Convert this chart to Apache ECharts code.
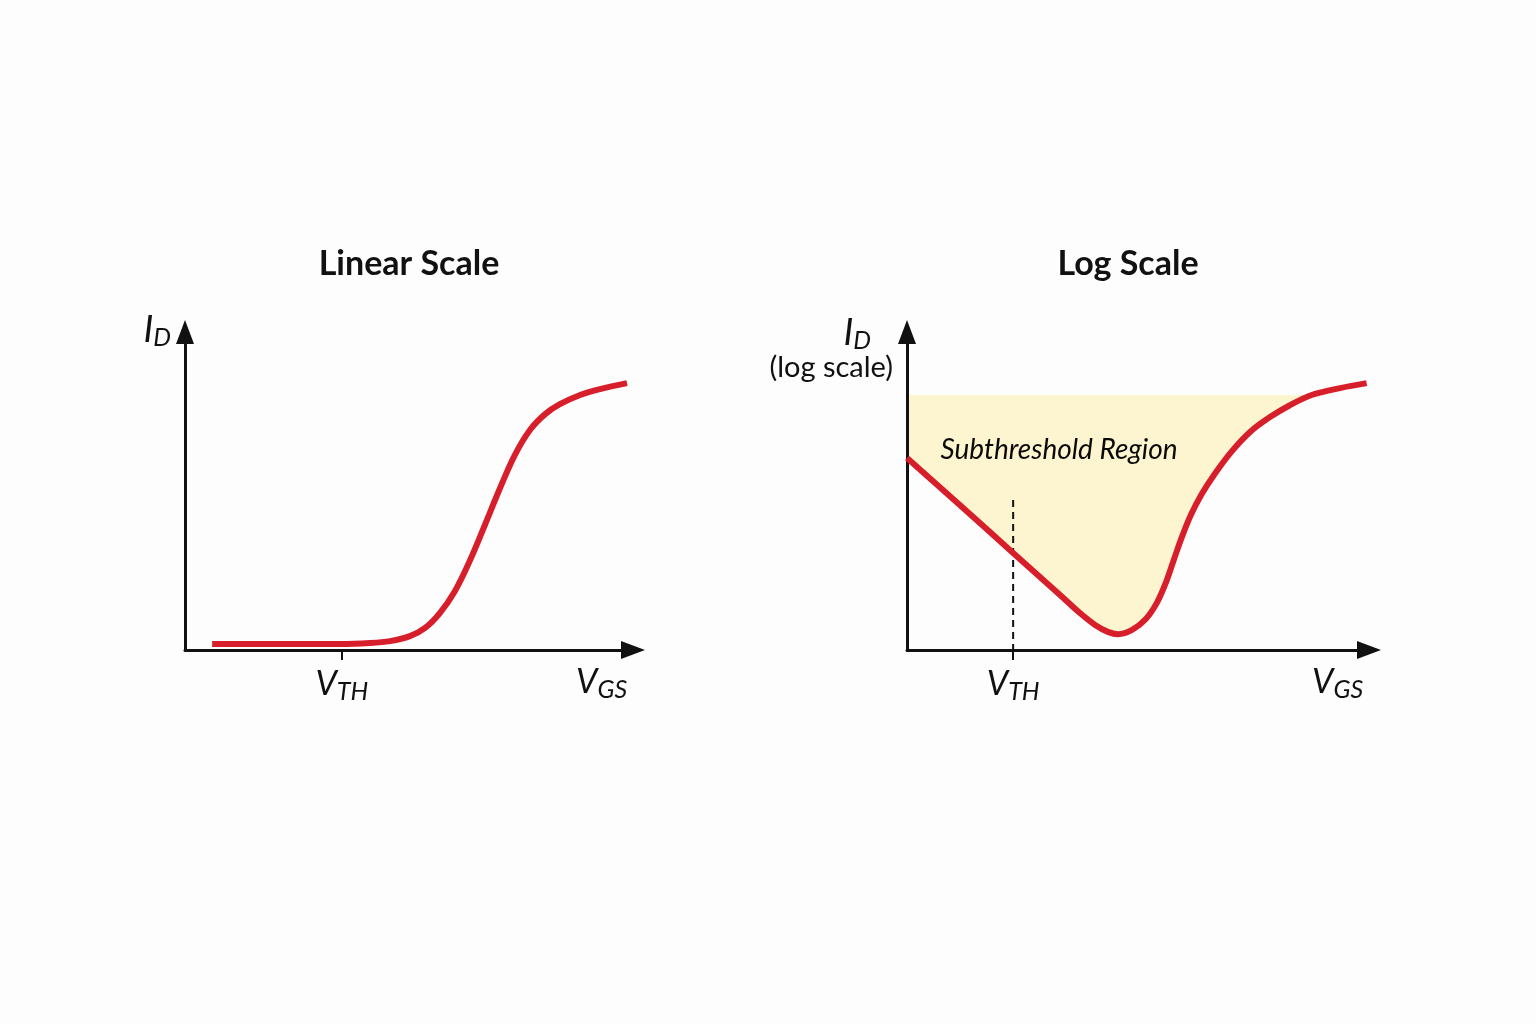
<!DOCTYPE html>
<html>
<head>
<meta charset="utf-8">
<script src="https://cdn.jsdelivr.net/npm/echarts@6/dist/echarts.min.js"></script>
<style>html,body{margin:0;padding:0;background:#fdfdfd}#c{width:1536px;height:1024px}</style>
</head>
<body>
<div id="c"></div>
<script>
// ---- data (arbitrary units: V_GS 0..100, I_D 0..100) ----
const titles = ['Linear Scale', 'Log Scale'];
const linX = [5.9, 16.3, 25.0, 33.7, 40.2, 44.6, 48.9, 52.2, 55.4, 58.7, 62.0, 65.2, 68.5, 71.7, 75.0, 78.3, 81.5, 85.9, 90.2, 96.1];
const linY = [1.8, 1.8, 1.8, 1.8, 2.1, 2.7, 4.2, 6.7, 11.2, 17.9, 27.3, 37.9, 49.1, 59.1, 66.7, 71.5, 74.5, 77.3, 79.1, 80.9];
const logX = [0, 11.2, 22.4, 32.3, 36.5, 39.7, 42.4, 44.5, 47.5, 50.4, 52.7, 54.6, 56.3, 58.0, 59.9, 62.2, 64.9, 68.4, 72.4, 76.6, 80.8, 85.4, 91.4, 97.0];
const logY = [58.2, 43.9, 29.4, 16.7, 11.2, 7.6, 5.5, 4.8, 6.1, 9.4, 14.2, 20.3, 27.3, 34.2, 40.9, 47.3, 53.3, 60.0, 66.1, 70.6, 74.2, 77.3, 79.4, 80.9];
const vthLin = 34.1;
const vthLog = 22.4;
const fillTop = 77.3;      // top of the subthreshold shading
const dashTop = 45.5;      // top of the dashed V_TH marker
const regionLabel = 'Subthreshold Region';
const regionLabelPos = [32.1, 60.6];
const logAxisNote = '(log scale)';
const logNoteAt = 85.5;

// ---- styles ----
const RED = '#d71f2b';
const FILL = '#fdf5cf';
const INK = '#111111';
const FONT = 'Lato, "Open Sans", sans-serif';

const subRich = {
  v: { fontFamily: FONT, fontStyle: 'italic', fontSize: 34, color: INK },
  s: { fontFamily: FONT, fontStyle: 'italic', fontSize: 25, color: INK, padding: [14, 0, 0, 0] }
};
const idRich = {
  v: { fontFamily: FONT, fontStyle: 'italic', fontSize: 37, color: INK },
  s: { fontFamily: FONT, fontStyle: 'italic', fontSize: 25, color: INK, padding: [16, 0, 0, 0] }
};

const zip = (xs, ys) => xs.map((x, i) => [x, ys[i]]);
const linData = zip(linX, linY);
const logData = zip(logX, logY);

function makeX(idx, max, vth) {
  return {
    type: 'value', gridIndex: idx, min: 0, max: max, z: 5,
    splitLine: { show: false },
    axisLine: { show: true, lineStyle: { color: INK, width: 3 }, symbol: ['none', 'triangle'], symbolSize: [18, 24] },
    axisTick: { show: true, customValues: [vth], length: 10, lineStyle: { color: INK, width: 2 } },
    axisLabel: { show: true, customValues: [vth], margin: 15, formatter: () => '{v|V}{s|TH}', rich: subRich },
    name: '{v|V}{s|GS}', nameLocation: 'end', nameGap: -57,
    nameTextStyle: { align: 'left', verticalAlign: 'top', padding: [13, 0, 0, 0], rich: subRich }
  };
}
function makeY(idx, nameRightPad, nameGap, note) {
  return {
    type: 'value', gridIndex: idx, min: 0, max: 96.4, z: 5,
    splitLine: { show: false },
    axisLine: { show: true, lineStyle: { color: INK, width: 3 }, symbol: ['none', 'triangle'], symbolSize: [18, 24] },
    axisTick: { show: false },
    axisLabel: note ? { show: true, customValues: [logNoteAt], margin: 14, formatter: () => note,
                        fontFamily: FONT, fontSize: 29, color: INK } : { show: false },
    name: '{v|I}{s|D}', nameLocation: 'end', nameGap: nameGap,
    nameTextStyle: { align: 'right', verticalAlign: 'middle', padding: [0, nameRightPad, 0, 0], rich: idRich }
  };
}

const chart = echarts.init(document.getElementById('c'), null, { renderer: 'canvas' });
chart.setOption({
  backgroundColor: '#fdfdfd',
  animation: false,
  title: [
    { text: titles[0], left: 404, top: 242, textAlign: 'center', textStyle: { fontFamily: FONT, fontWeight: 'bold', fontSize: 34, color: INK } },
    { text: titles[1], left: 1123, top: 242, textAlign: 'center', textStyle: { fontFamily: FONT, fontWeight: 'bold', fontSize: 34, color: INK } }
  ],
  grid: [
    { left: 185, top: 332, width: 448, height: 318 },
    { left: 907, top: 332, width: 462, height: 318 }
  ],
  xAxis: [makeX(0, 97.4, vthLin), makeX(1, 97.5, vthLog)],
  yAxis: [makeY(0, 14, 2, null), makeY(1, 36, -6, logAxisNote)],
  series: [
    {
      type: 'custom', xAxisIndex: 1, yAxisIndex: 1, z: 1, silent: true,
      data: [0],
      renderItem: function (params, api) {
        const pts = [api.coord([0, fillTop])];
        for (let i = 0; i < logData.length; i++) {
          pts.push(api.coord(logData[i]));
          if (logData[i][1] >= fillTop && i > 0) break;
        }
        return { type: 'polygon', shape: { points: pts }, style: { fill: FILL } };
      }
    },
    {
      type: 'line', xAxisIndex: 0, yAxisIndex: 0, z: 6, data: linData, smooth: 0.35,
      showSymbol: false, lineStyle: { color: RED, width: 6 }
    },
    {
      type: 'line', xAxisIndex: 1, yAxisIndex: 1, z: 6, data: logData, smooth: 0.35,
      showSymbol: false, lineStyle: { color: RED, width: 6 }
    },
    {
      type: 'line', xAxisIndex: 1, yAxisIndex: 1, z: 3, data: [[vthLog, dashTop], [vthLog, 0]],
      showSymbol: false, lineStyle: { color: INK, width: 2, type: [7, 5] }
    }
  ]
});
const lp = chart.convertToPixel({ xAxisIndex: 1, yAxisIndex: 1 }, regionLabelPos);
chart.setOption({
  graphic: [{
    type: 'text', x: lp[0], y: lp[1], z: 10, silent: true,
    style: { text: regionLabel, fill: '#0a0a0a', align: 'center', verticalAlign: 'middle',
             font: 'italic 28px ' + FONT }
  }]
});
</script>
</body>
</html>
